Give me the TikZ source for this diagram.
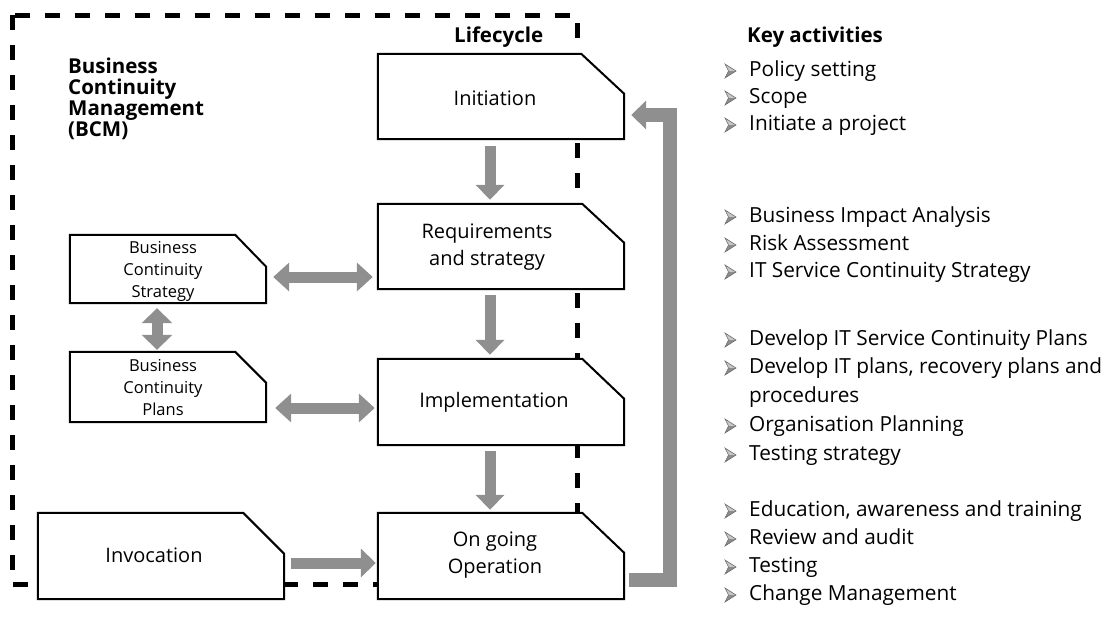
\documentclass[tikz,border=0pt]{standalone}
\usepackage{fontspec}
\setmainfont{Open Sans}
\usetikzlibrary{arrows.meta,calc}
\definecolor{arrowgray}{gray}{0.56}
\newcommand{\chambox}[3]{%
  \draw[boxline] (#1.south west) -- (#1.north west) -- ([xshift=-#2pt]#1.north east)
    -- ([yshift=-#3pt]#1.north east) -- (#1.south east) -- cycle;}
\tikzset{
  boxline/.style={line width=2pt, fill=white, line join=miter},
  mainbox/.style={draw=none, minimum width=246pt, minimum height=85pt, inner sep=0pt},
  smallbox/.style={draw=none, minimum width=196pt, minimum height=69pt, inner sep=0pt},
  boxtext/.style={font=\fontsize{20}{27}\selectfont, align=center, inner sep=0pt},
  smalltext/.style={font=\fontsize{16.5}{22}\selectfont, align=center, inner sep=0pt},
  keytext/.style={font=\fontsize{20.8}{27}\selectfont, anchor=west, inner sep=0pt, text height=15pt, text depth=5pt},
  boldlabel/.style={font=\bfseries\fontsize{20.5}{21}\selectfont, inner sep=0pt, align=left},
  bcmborder/.style={line width=5pt, dash pattern=on 15pt off 15pt},
  fat/.style={draw=arrowgray, line width=11pt, -{Triangle[length=15pt,width=28pt]}},
  fatboth/.style={draw=arrowgray, line width=11pt, {Triangle[length=16pt,width=28pt]}-{Triangle[length=16pt,width=28pt]}},
  fatfb/.style={draw=arrowgray, line width=14pt, line join=miter, -{Triangle[length=15pt,width=28pt]}},
  kbullet/.pic={
    \fill[gray!45] (0,-7) -- (11,0) -- (3.5,0) -- cycle;
    \fill[gray!90] (3.5,0) -- (11,0) -- (0,7) -- cycle;
    \draw[gray!85!black, line width=0.6pt, line join=miter] (0,-7) -- (11,0) -- (0,7) -- (3.5,0) -- cycle;
  }
}
\begin{document}
\begin{tikzpicture}[x=1pt, y=-1pt]
\useasboundingbox (0,0) rectangle (1112,637);
% BCM dashed border
\draw[bcmborder] (12,15) -- (12,584) -- (577,584) -- (577,15) -- cycle;

% boxes
\node[mainbox] (init) at (501,96.5) {};
\node[mainbox] (req)  at (501,246.5) {};
\node[mainbox, minimum height=86pt] (impl) at (501,402) {};
\node[mainbox, minimum height=86pt] (og)   at (501,556) {};
\node[mainbox, minimum height=86pt] (inv)  at (161,556) {};
\node[smallbox, minimum height=68pt] (bcs) at (168,269) {};
\node[smallbox, minimum height=70pt] (bcp) at (168,387) {};

\chambox{init}{43}{40}
\chambox{req}{42}{39}
\chambox{impl}{42}{40}
\chambox{og}{42}{40}
\chambox{inv}{41}{41}
\chambox{bcs}{31}{32}
\chambox{bcp}{31}{31}

% box texts
\node[boxtext] (initT) at (495,98) {Initiation};
\node[boxtext] (reqT)  at (487,247) {Requirements\\and strategy};
\node[boxtext] (implT) at (494,402) {Implementation};
\node[boxtext] (ogT)   at (495,555) {On going\\Operation};
\node[boxtext] (invT)  at (154,555) {Invocation};
\node[smalltext] (bcsT) at (163,271) {Business\\Continuity\\Strategy};
\node[smalltext] (bcpT) at (163,388) {Business\\Continuity\\Plans};

% labels
\node[boldlabel, anchor=north west] (bcm) at (68,58) {Business\\Continuity\\Management\\(BCM)};
\node[boldlabel, anchor=west] (life) at (454,37) {Lifecycle};

% gray arrows
\draw[fat] ($(init.south)+(-11,7)$) -- ($(req.north)+(-11,-4)$);
\draw[fat] ($(req.south)+(-11,6)$) -- ($(impl.north)+(-11,-4)$);
\draw[fat] ($(impl.south)+(-11,6)$) -- ($(og.north)+(-11,-3)$);
\draw[fat] ($(inv.east)+(7,7)$) -- ($(og.west)+(-2,7)$);
\draw[fatboth] ($(bcs.east)+(7,8)$) -- ($(req.west |- bcs.east)+(-5,8)$);
\draw[fatboth] ($(bcp.east)+(9,21)$) -- ($(impl.west |- bcp.east)+(-3,21)$);
\draw[fatboth, {Triangle[length=15pt,width=30pt]}-{Triangle[length=15pt,width=30pt]}] ($(bcs.south)+(-11,5)$) -- ($(bcp.north)+(-11,-2)$);
\draw[fatfb] ($(og.east)+(5,24)$) -| ($(init.east)+(46,18.5)$) -- ($(init.east)+(7,18.5)$);

% key activities
\node[boldlabel, anchor=west] (k0) at (747,37) {Key activities};
\foreach \yy in {71,98,125,217,245,272,340,368,426,455,511,539,567,595}
  \pic at (725,\yy) {kbullet};
\node[keytext] (k1) at (749,71) {Policy setting};
\node[keytext] (k2) at (749,98) {Scope};
\node[keytext] (k3) at (749,125) {Initiate a project};
\node[keytext] (k4) at (749,217) {Business Impact Analysis};
\node[keytext] (k5) at (749,245) {Risk Assessment};
\node[keytext] (k6) at (749,272) {IT Service Continuity Strategy};
\node[keytext] (k7) at (749,340) {Develop IT Service Continuity Plans};
\node[keytext] (k8) at (749,368) {Develop IT plans, recovery plans and};
\node[keytext] (k9) at (749,397) {procedures};
\node[keytext] (k10) at (749,426) {Organisation Planning};
\node[keytext] (k11) at (749,455) {Testing strategy};
\node[keytext] (k12) at (749,511) {Education, awareness and training};
\node[keytext] (k13) at (749,539) {Review and audit};
\node[keytext] (k14) at (749,567) {Testing};
\node[keytext] (k15) at (749,595) {Change Management};
\end{tikzpicture}
\end{document}
